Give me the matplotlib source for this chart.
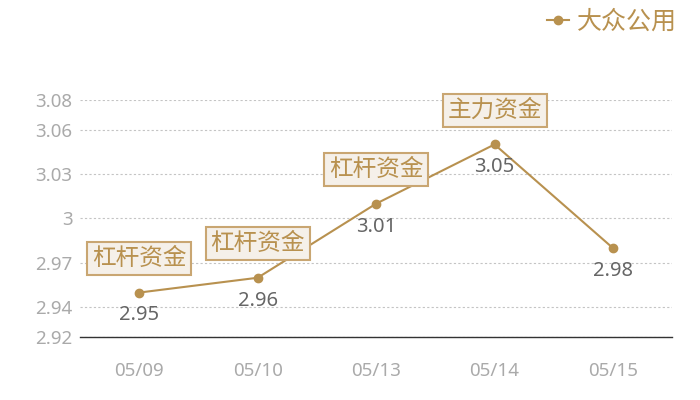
import matplotlib
matplotlib.use("Agg")
import matplotlib.pyplot as plt

plt.rcParams["font.family"] = ["Noto Sans", "Noto Sans CJK SC", "DejaVu Sans"]

dates = ["05/09", "05/10", "05/13", "05/14", "05/15"]
values = [2.95, 2.96, 3.01, 3.05, 2.98]
tags = ["杠杆资金", "杠杆资金", "杠杆资金", "主力资金", ""]
series_name = "大众公用"
y_ticks = [2.92, 2.94, 2.97, 3.00, 3.03, 3.06, 3.08]
y_tick_labels = ["2.92", "2.94", "2.97", "3", "3.03", "3.06", "3.08"]

gold = "#b8914f"

fig = plt.figure(figsize=(7, 4), dpi=100)
ax = fig.add_axes([0.1143, 0.1575, 0.846, 0.5925])

x = list(range(len(dates)))
ax.plot(x, values, color=gold, linewidth=1.5, marker="o", markersize=6,
        label=series_name)

for i, (v, t) in enumerate(zip(values, tags)):
    ax.annotate(f"{v:g}", (i, v), xytext=(0, -16.5), textcoords="offset points",
                ha="center", va="center", fontsize=14.5, color="#666666")
    if t:
        ax.annotate(t, (i, v), xytext=(0, 24.5), textcoords="offset points",
                    ha="center", va="center", fontsize=17, color=gold,
                    family=["Noto Sans CJK SC"],
                    bbox=dict(boxstyle="square,pad=0.2", facecolor="#f5f0e9",
                              edgecolor="#c9a672", linewidth=1.5))

ax.set_xlim(-0.5, len(dates) - 0.5)
ax.set_ylim(2.92, 3.08)
ax.set_xticks(x)
ax.set_xticklabels(dates)
ax.set_yticks(y_ticks)
ax.set_yticklabels(y_tick_labels)
ax.tick_params(axis="both", length=0, colors="#aaaaaa")
ax.tick_params(axis="x", pad=18, labelsize=13.5)
ax.tick_params(axis="y", pad=5.5, labelsize=13.5)

ax.grid(axis="y", linestyle=(0, (2, 2)), color="#c4c4c4", linewidth=0.8)
for s in ["top", "right", "left"]:
    ax.spines[s].set_visible(False)
ax.spines["bottom"].set_color("#333333")
ax.spines["bottom"].set_linewidth(1)

leg = fig.legend(loc="upper right", bbox_to_anchor=(0.999, 1.035), frameon=False,
                 handlelength=0.9, handletextpad=0.3,
                 prop={"family": ["Noto Sans CJK SC"], "size": 18})
for txt in leg.get_texts():
    txt.set_color(gold)

fig.savefig("out.png", dpi=100)
